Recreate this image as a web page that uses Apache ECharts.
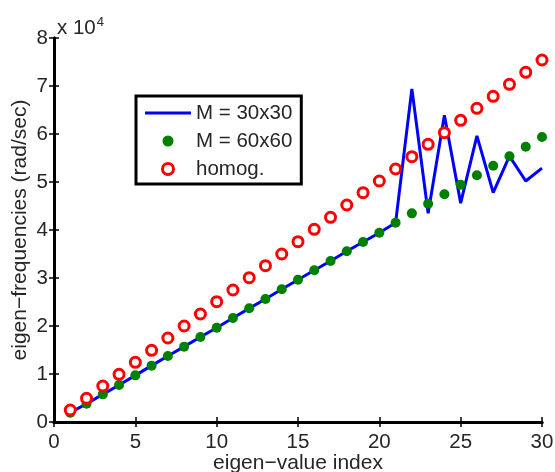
<!DOCTYPE html>
<html>
<head>
<meta charset="utf-8">
<script src="https://cdn.jsdelivr.net/npm/echarts@6/dist/echarts.min.js"></script>
<style>html,body{margin:0;padding:0;background:#fff;}#c{width:555px;height:472px;}</style>
</head>
<body>
<div id="c"></div>
<script>
const indices = [1,2,3,4,5,6,7,8,9,10,11,12,13,14,15,16,17,18,19,20,21,22,23,24,25,26,27,28,29,30];
const m30 = [1940,3810,5760,7700,9720,11740,13750,15700,17700,19650,21670,23680,25620,27640,29650,31600,33540,35560,37500,39440,41500,69400,43500,63900,45600,59600,47800,55400,50200,52900];
const m60 = [1940,3810,5760,7700,9720,11740,13750,15700,17700,19650,21670,23680,25620,27640,29650,31600,33540,35560,37500,39440,41500,43470,45480,47430,49440,51390,53400,55350,57360,59375];
const homog = [2500,4930,7500,9930,12430,14930,17500,20000,22500,25070,27500,30070,32570,35000,37570,40140,42640,45210,47780,50210,52710,55280,57850,60280,62850,65350,67850,70350,72850,75420];
const xTicks = [0,5,10,15,20,25,30];
const yTickLabels = ['0','1','2','3','4','5','6','7','8'];
const seriesNames = ['M = 30x30','M = 60x60','homog.'];

const FONT = 'Liberation Sans, Arial, Helvetica, sans-serif';
const TXT = '#262626';
const FS = 20.5;
const pairs = arr => indices.map((k,i)=>[k,arr[i]]);

const chart = echarts.init(document.getElementById('c'), null, {renderer:'canvas'});
const axisCommon = {
  axisLine:{show:true,lineStyle:{color:'#000',width:3}},
  axisTick:{show:true,inside:true,length:5,lineStyle:{color:'#000',width:1.5}},
  splitLine:{show:false}
};
chart.setOption({
  animation:false,
  backgroundColor:'#fff',
  textStyle:{fontFamily:FONT,color:TXT},
  title:{
    text:'x 10{sup|4}',
    left:52, top:11,
    textStyle:{fontFamily:FONT,fontSize:FS,fontWeight:'normal',color:TXT,
      rich:{sup:{fontFamily:FONT,fontSize:13,color:TXT,verticalAlign:'top',padding:[0,0,12,1]}}}
  },
  grid:{left:54,right:13,top:38,bottom:50,containLabel:false,outerBoundsMode:'none'},
  legend:{
    orient:'vertical',
    left:136, top:96,
    padding:[6,9,4,9],
    borderColor:'#000', borderWidth:3,
    backgroundColor:'#fff',
    itemWidth:46, itemHeight:11, itemGap:6,
    textStyle:{fontFamily:FONT,fontSize:FS,color:TXT,lineHeight:22},
    data:[
      {name:seriesNames[0], icon:'path://M0,0H46V3H0Z'},
      {name:seriesNames[1], icon:'circle'},
      {name:seriesNames[2], icon:'circle', itemStyle:{color:'#ffffff',borderColor:'#ff0000',borderWidth:3}}
    ]
  },
  xAxis:[
    Object.assign({type:'value',min:0,max:30,interval:5,position:'bottom',
      name:'eigen\u2212value index',nameLocation:'middle',nameGap:31,nameMoveOverlap:false,
      nameTextStyle:{fontFamily:FONT,fontSize:21,color:TXT},
      axisLabel:{fontFamily:FONT,fontSize:FS,color:TXT,margin:10,
        formatter:v=>xTicks.indexOf(v)>=0?String(v):''}},axisCommon),
    Object.assign({type:'value',min:0,max:30,interval:5,position:'top',axisLabel:{show:false}},axisCommon)
  ],
  yAxis:[
    Object.assign({type:'value',min:0,max:80000,interval:10000,position:'left',
      name:'eigen\u2212frequencies (rad/sec)',nameLocation:'middle',nameGap:23,nameMoveOverlap:false,
      nameTextStyle:{fontFamily:FONT,fontSize:21,color:TXT},
      axisLabel:{fontFamily:FONT,fontSize:FS,color:TXT,margin:6,
        formatter:v=>yTickLabels[Math.round(v/10000)]}},axisCommon),
    Object.assign({type:'value',min:0,max:80000,interval:10000,position:'right',axisLabel:{show:false}},axisCommon)
  ],
  series:[
    {name:seriesNames[0],type:'line',data:pairs(m30),showSymbol:false,symbol:'none',
      lineStyle:{color:'#0000ff',width:3},itemStyle:{color:'#0000ff'},z:2},
    {name:seriesNames[1],type:'scatter',data:pairs(m60),symbol:'circle',symbolSize:10,
      itemStyle:{color:'#008000',opacity:1},z:3},
    {name:seriesNames[2],type:'scatter',data:pairs(homog),symbol:'circle',symbolSize:10,
      itemStyle:{color:'#ffffff',borderColor:'#ff0000',borderWidth:3,opacity:1},z:4}
  ]
});
</script>
</body>
</html>
